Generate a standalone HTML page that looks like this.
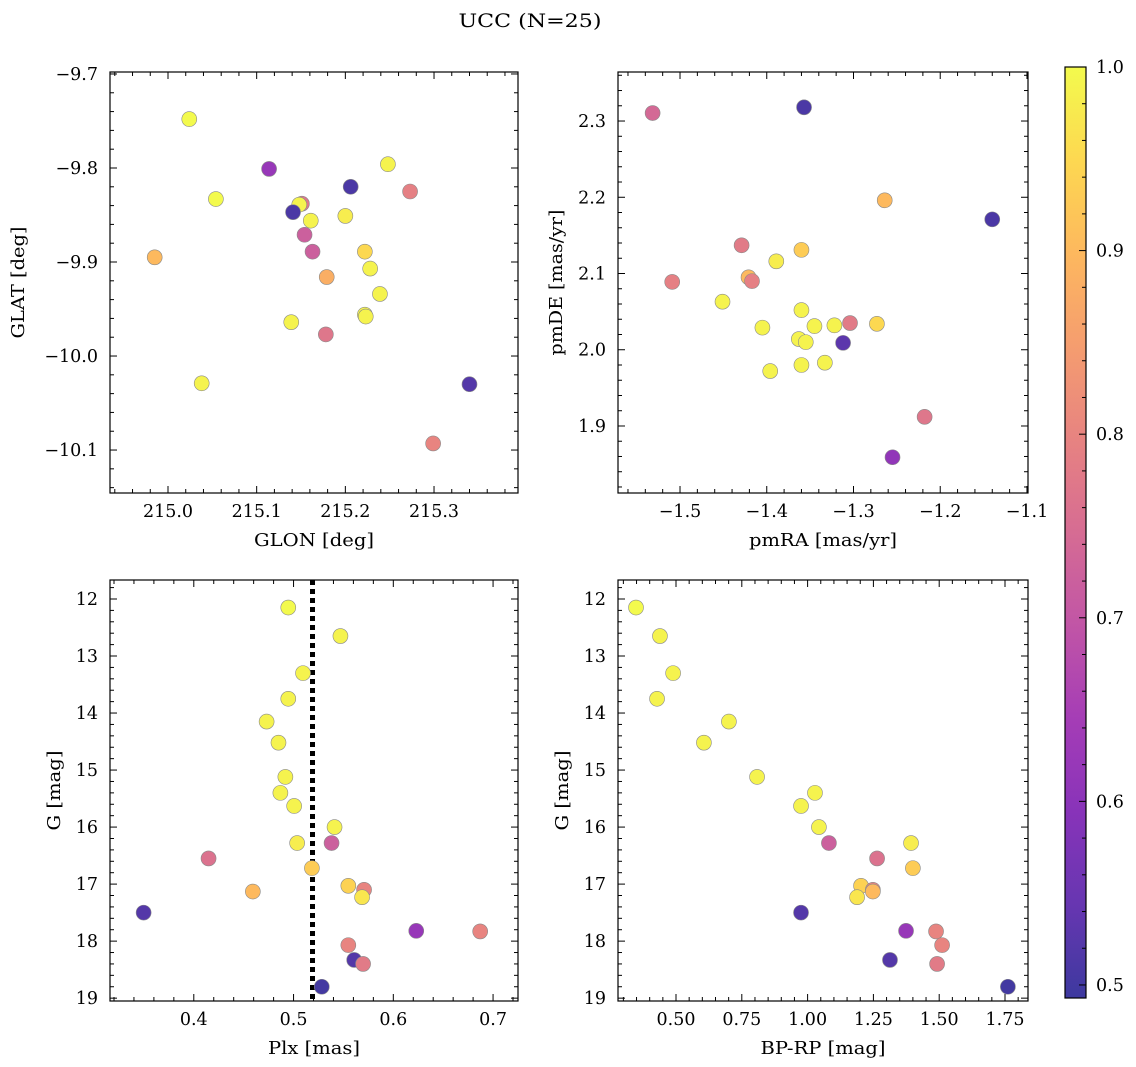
<!DOCTYPE html>
<html><head><meta charset="utf-8">
<style>
html,body{margin:0;padding:0;background:#fff;}
svg{display:block;font-family:"DejaVu Serif","Liberation Serif",serif;}
</style></head>
<body>
<svg id="fig" width="1136" height="1067" viewBox="0 0 1136 1067" xmlns="http://www.w3.org/2000/svg">
<text x="530" y="27" font-size="19" text-anchor="middle" textLength="143" lengthAdjust="spacingAndGlyphs">UCC (N=25)</text>
</svg>
<script>
// Panel 1: GLON vs GLAT
const p1Lon=[215.024,215.248,215.114,215.206,215.273,215.054,215.151,215.148,215.141,215.161,215.200,215.154,215.163,215.222,214.985,215.228,215.179,215.239,215.222,215.223,215.139,215.178,215.038,215.340,215.299];
const p1Lat=[-9.748,-9.796,-9.801,-9.820,-9.825,-9.833,-9.838,-9.839,-9.847,-9.856,-9.851,-9.871,-9.889,-9.889,-9.895,-9.907,-9.916,-9.934,-9.956,-9.958,-9.964,-9.977,-10.029,-10.030,-10.093];
const p1C=[1.0,0.99,0.62,0.51,0.79,1.0,0.77,0.99,0.51,0.99,0.98,0.72,0.72,0.95,0.9,0.99,0.88,0.99,0.99,0.99,0.99,0.77,0.99,0.52,0.8];
// Panel 2: pmRA vs pmDE
const p2RA=[-1.5316,-1.357,-1.264,-1.140,-1.429,-1.360,-1.509,-1.421,-1.417,-1.389,-1.451,-1.360,-1.345,-1.322,-1.304,-1.273,-1.405,-1.363,-1.355,-1.312,-1.360,-1.333,-1.396,-1.218,-1.255];
const p2DE=[2.3105,2.318,2.196,2.171,2.137,2.131,2.089,2.095,2.090,2.116,2.063,2.052,2.031,2.032,2.035,2.034,2.029,2.014,2.010,2.009,1.980,1.983,1.972,1.912,1.859];
const p2C=[0.74,0.51,0.9,0.51,0.78,0.93,0.79,0.9,0.79,0.98,0.99,0.99,0.99,0.99,0.78,0.95,0.99,0.99,0.99,0.53,0.99,0.99,0.99,0.77,0.61];
// Panels 3/4: Plx, BP-RP vs G
const gMag=[12.15,12.65,13.3,13.75,14.15,14.52,15.12,15.4,15.63,16.0,16.28,16.28,16.55,16.72,17.03,17.1,17.13,17.23,17.5,17.82,17.83,18.07,18.33,18.4,18.8];
const plx=[0.4947,0.547,0.5095,0.4947,0.473,0.4849,0.4918,0.4868,0.5006,0.5411,0.5036,0.5381,0.4148,0.5184,0.5549,0.5707,0.4592,0.5687,0.3497,0.623,0.6871,0.5549,0.5608,0.5697,0.5283];
const bprp=[0.348,0.439,0.489,0.428,0.701,0.606,0.808,1.028,0.975,1.043,1.393,1.081,1.264,1.400,1.203,1.248,1.248,1.188,0.975,1.374,1.488,1.511,1.313,1.492,1.761];
const gC=[1.0,0.99,0.99,0.99,0.99,0.99,0.99,0.99,0.99,0.99,0.98,0.72,0.76,0.93,0.94,0.8,0.9,0.97,0.52,0.62,0.8,0.8,0.52,0.78,0.5];
const plxMean=[0.519];
const cTicks=[0.5,0.6,0.7,0.8,0.9,1.0];

const NS="http://www.w3.org/2000/svg";
const svg=document.getElementById('fig');
function el(tag,attrs,parent){const e=document.createElementNS(NS,tag);for(const k in attrs)e.setAttribute(k,attrs[k]);(parent||svg).appendChild(e);return e;}
const stops=[[0,[13,8,135]],[0.1,[65,4,157]],[0.2,[106,0,168]],[0.3,[143,13,164]],[0.4,[177,42,144]],[0.5,[204,71,120]],[0.6,[225,100,98]],[0.7,[242,132,75]],[0.8,[252,166,54]],[0.9,[252,206,37]],[1,[240,249,33]]];
const CMIN=0.4929,CMAX=1.0;
function plasma(v){let t=(v-CMIN)/(CMAX-CMIN);t=Math.max(0,Math.min(1,t));
 for(let i=1;i<stops.length;i++){if(t<=stops[i][0]){const a=stops[i-1],b=stops[i];const f=(t-a[0])/(b[0]-a[0]);
 const c=a[1].map((x,j)=>Math.round((x+(b[1][j]-x)*f)*0.8+255*0.2));return `rgb(${c[0]},${c[1]},${c[2]})`;}}return 'rgb(243,250,78)';}
function fmt(v,d){const s=Math.abs(v).toFixed(d);return (v<0?'\u2212':'')+s;}

function panel(o){
 const {name,x0,y0,x1,y1,xmin,xmax,ymin,ymax,yinv}=o;
 const sx=v=>x0+(v-xmin)/(xmax-xmin)*(x1-x0);
 const sy=yinv?(v=>y0+(v-ymin)/(ymax-ymin)*(y1-y0)):(v=>y1-(v-ymin)/(ymax-ymin)*(y1-y0));
 const g=el('g',{});
 
 
 const tg=el('g',{stroke:'#000','stroke-width':1},g);
 const lo=Math.min(xmin,xmax),hi=Math.max(xmin,xmax);
 for(let k=Math.ceil(lo/o.xminor-1e-6);k*o.xminor<=hi+1e-9;k++){const v=k*o.xminor,x=sx(v);const major=Math.abs(v/o.xmajor-Math.round(v/o.xmajor))<1e-6;const L=major?7:4;
  el('line',{x1:x,y1:y1,x2:x,y2:y1-L},tg);el('line',{x1:x,y1:y0,x2:x,y2:y0+L},tg);
  if(major){const t=el('text',{x:x,y:y1+24,'font-size':17.5,'text-anchor':'middle',stroke:'none'},g);t.textContent=fmt(v,o.xdec);}}
 const ylo=Math.min(ymin,ymax),yhi=Math.max(ymin,ymax);
 for(let k=Math.ceil(ylo/o.yminor-1e-6);k*o.yminor<=yhi+1e-9;k++){const v=k*o.yminor,y=sy(v);const major=Math.abs(v/o.ymajor-Math.round(v/o.ymajor))<1e-6;const L=major?7:4;
  el('line',{x1:x0,y1:y,x2:x0+L,y2:y},tg);el('line',{x1:x1,y1:y,x2:x1-L,y2:y},tg);
  if(major){const t=el('text',{x:x0-12,y:y+6,'font-size':17.5,'text-anchor':'end',stroke:'none'},g);t.textContent=fmt(v,o.ydec);}}
 const xl=el('text',{x:(x0+x1)/2,y:y1+53,'font-size':18,'text-anchor':'middle',textLength:o.xlw,lengthAdjust:'spacingAndGlyphs'},g);xl.textContent=o.xlabel;
 
 const yx=o.ylx,yy=(y0+y1)/2;
 const yl=el('text',{x:yx,y:yy,'font-size':18,'text-anchor':'middle',textLength:o.ylw,lengthAdjust:'spacingAndGlyphs',transform:`rotate(-90 ${yx} ${yy})`},g);yl.textContent=o.ylabel;
 
 if(o.vline){const l=el('line',{x1:sx(o.vline),x2:sx(o.vline),y1:y0,y2:y1,stroke:'#000','stroke-width':5,'stroke-dasharray':'5,4'},g);
  }
 for(let i=0;i<o.xs.length;i++){const c=el('circle',{cx:sx(o.xs[i]),cy:sy(o.ys[i]),r:7.5,fill:plasma(o.cs[i]),stroke:'#8a8a8a','stroke-width':0.6},g);
  }
 el('rect',{x:x0,y:y0,width:x1-x0,height:y1-y0,fill:'none',stroke:'#000','stroke-width':1.2},g);
}
panel({name:'glon-glat-panel',x0:110,y0:72,x1:518,y1:493,xmin:214.9346,xmax:215.3947,ymin:-10.1457,ymax:-9.6979,xminor:0.02,xmajor:0.1,yminor:0.02,ymajor:0.1,xdec:1,ydec:1,xlabel:'GLON [deg]',xlw:120,ylabel:'GLAT [deg]',ylw:112,ylx:24,xs:p1Lon,ys:p1Lat,cs:p1C});
panel({name:'proper-motion-panel',x0:618,y0:72,x1:1028,y1:493,xmin:-1.5715,xmax:-1.0988,ymin:1.8121,ymax:2.3643,xminor:0.02,xmajor:0.1,yminor:0.02,ymajor:0.1,xdec:1,ydec:1,xlabel:'pmRA [mas/yr]',xlw:148,ylabel:'pmDE [mas/yr]',ylw:146,ylx:562,xs:p2RA,ys:p2DE,cs:p2C});
panel({name:'plx-g-panel',x0:110,y0:580,x1:518,y1:1001,xmin:0.316,xmax:0.725,ymin:11.667,ymax:19.05,yinv:true,xminor:0.02,xmajor:0.1,yminor:0.2,ymajor:1,xdec:1,ydec:0,xlabel:'Plx [mas]',xlw:92,ylabel:'G [mag]',ylw:80,ylx:60,xs:plx,ys:gMag,cs:gC,vline:plxMean[0]});
panel({name:'cmd-panel',x0:618,y0:580,x1:1028,y1:1001,xmin:0.2796,xmax:1.8374,ymin:11.667,ymax:19.05,yinv:true,xminor:0.05,xmajor:0.25,yminor:0.2,ymajor:1,xdec:2,ydec:0,xlabel:'BP-RP [mag]',xlw:125,ylabel:'G [mag]',ylw:80,ylx:568,xs:bprp,ys:gMag,cs:gC});

// colorbar
const cb=el('g',{});


const defs=el('defs',{},cb);
const lg=el('linearGradient',{id:'cbg',x1:0,y1:1,x2:0,y2:0},defs);
for(let i=0;i<=20;i++){const v=CMIN+(CMAX-CMIN)*i/20;el('stop',{offset:(i/20),'stop-color':plasma(v)},lg);}
const cbx0=1065,cbx1=1086,cby0=67,cby1=998;
el('rect',{x:cbx0,y:cby0,width:cbx1-cbx0,height:cby1-cby0,fill:'url(#cbg)',stroke:'#000','stroke-width':1.2},cb);
const cy=v=>cby1-(v-CMIN)/(CMAX-CMIN)*(cby1-cby0);
for(let k=25;k<=50;k++){const v=k*0.02;const y=cy(v);const major=k%5==0;el('line',{x1:cbx1,x2:cbx1-(major?7:4),y1:y,y2:y,stroke:'#000'},cb);}
cTicks.forEach(v=>{const t=el('text',{x:cbx1+10,y:cy(v)+6,'font-size':17.5},cb);t.textContent=v.toFixed(1);
 });
</script>
</body></html>
